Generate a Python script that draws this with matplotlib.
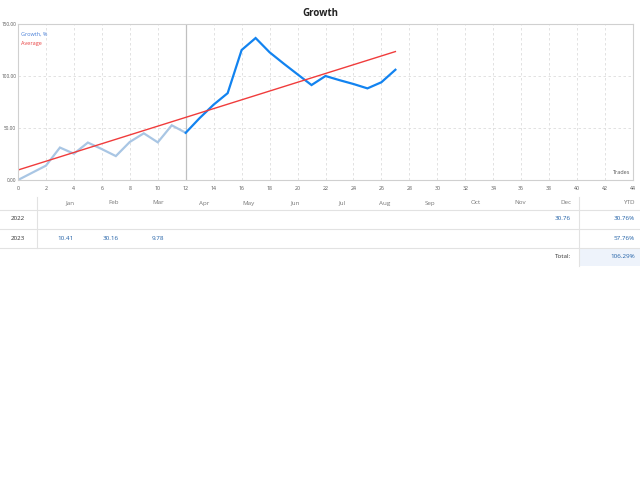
import matplotlib
matplotlib.use("Agg")
import matplotlib.pyplot as plt
from matplotlib.lines import Line2D
from matplotlib.patches import Rectangle
import numpy as np

plt.rcParams['font.family'] = ['Open Sans', 'DejaVu Sans']

# ---- data ----
trades = list(range(28))
growth = [0, 6.9, 13.8, 31.2, 25.3, 36.0, 29.7, 23.0, 36.6, 44.9, 36.2, 52.6, 45.4,
          59.6, 72.5, 83.5, 125.0, 136.5, 122.8, 112.0, 101.6, 91.3, 100.0, 96.0,
          92.3, 88.1, 94.0, 106.0]
split_index = 12
avg_x = [0, 27]
avg_y = [9.6, 123.5]
x_ticks = list(range(0, 45, 2))
y_ticks = [0, 50, 100, 150]

months = ["Jan", "Feb", "Mar", "Apr", "May", "Jun", "Jul", "Aug", "Sep", "Oct", "Nov", "Dec"]
years = ["2022", "2023"]
monthly = {
    "2022": {"Dec": "30.76"},
    "2023": {"Jan": "10.41", "Feb": "30.16", "Mar": "9.78"},
}
ytd = {"2022": "30.76%", "2023": "57.76%"}
total = "106.29%"

W, H = 640, 480
fig = plt.figure(figsize=(6.4, 4.8), dpi=100)

def fx(x):
    return x / W

def fy(y):
    return 1 - y / H

# ---- chart ----
left, right, top, bottom = 18, 633, 24, 180
ax = fig.add_axes([fx(left), fy(bottom), (right - left) / W, (bottom - top) / H])
ax.set_xlim(0, 44)
ax.set_ylim(0, 150)
ax.set_xticks(x_ticks)
ax.set_yticks(y_ticks)
ax.set_xticklabels([str(t) for t in x_ticks])
ax.set_yticklabels([f"{t:.2f}" for t in y_ticks])
ax.tick_params(axis='x', length=0, labelsize=3.8, colors='#555555', pad=4)
ax.tick_params(axis='y', length=0, labelsize=3.4, colors='#555555', pad=1.2)
ax.grid(True, color='#dddddd', linestyle=(0, (3, 3)), linewidth=0.6)
for s in ax.spines.values():
    s.set_color('#d0d0d0')
    s.set_linewidth(0.8)
ax.set_axisbelow(True)

ax.axvline(trades[split_index], color='#c0c0c0', linewidth=0.9)
ax.plot(trades[:split_index + 1], growth[:split_index + 1], color='#a9c6e4', linewidth=1.6,
        solid_joinstyle='miter')
ax.plot(trades[split_index:], growth[split_index:], color='#1283f0', linewidth=1.6,
        solid_joinstyle='miter')
ax.plot(avg_x, avg_y, color='#f03c3c', linewidth=1.0)

ax.text(0.005, 0.95, "Growth, %", transform=ax.transAxes, fontsize=4, color='#4a80d8',
        va='top', ha='left')
ax.text(0.005, 0.89, "Average", transform=ax.transAxes, fontsize=4, color='#e84040',
        va='top', ha='left')
ax.text(0.995, 0.03, "Trades", transform=ax.transAxes, fontsize=4, color='#555555',
        va='bottom', ha='right')

fig.text(0.5, fy(14), "Growth", ha='center', va='center', fontsize=7, fontweight='bold',
         color='#222222')

# ---- table ----
col_right = [74 + 45.2 * i for i in range(12)]
ytd_right = 635
header_y, row_y, total_y = 203, [219, 238], 257
lines_y = [209.5, 228.5, 247.5]

for y in lines_y:
    fig.add_artist(Line2D([0, 1], [fy(y), fy(y)], color='#e2e2e2', linewidth=0.8))
fig.add_artist(Line2D([fx(36.5), fx(36.5)], [fy(197), fy(247.5)], color='#e2e2e2', linewidth=0.8))
fig.add_artist(Line2D([fx(578.5), fx(578.5)], [fy(197), fy(266)], color='#e2e2e2', linewidth=0.8))
fig.add_artist(Rectangle((fx(579), fy(266)), fx(640) - fx(579), fy(248) - fy(266),
                         facecolor='#eef3fb', edgecolor='none', zorder=0))

fs = 4.5
for m, xr in zip(months, col_right):
    fig.text(fx(xr), fy(header_y), m, ha='right', va='center', fontsize=fs, color='#777777')
fig.text(fx(ytd_right), fy(header_y), "YTD", ha='right', va='center', fontsize=fs, color='#777777')

for yr, ry in zip(years, row_y):
    fig.text(fx(18), fy(ry), yr, ha='center', va='center', fontsize=fs, color='#333333')
    for m, xr in zip(months, col_right):
        if m in monthly[yr]:
            fig.text(fx(xr), fy(ry), monthly[yr][m], ha='right', va='center', fontsize=fs,
                     color='#1f5fa6')
    fig.text(fx(ytd_right), fy(ry), ytd[yr], ha='right', va='center', fontsize=fs, color='#1f5fa6')

fig.text(fx(571), fy(total_y), "Total:", ha='right', va='center', fontsize=fs, color='#333333')
fig.text(fx(ytd_right), fy(total_y), total, ha='right', va='center', fontsize=fs, color='#1f5fa6')

fig.savefig("out.png", dpi=100, facecolor='white')
